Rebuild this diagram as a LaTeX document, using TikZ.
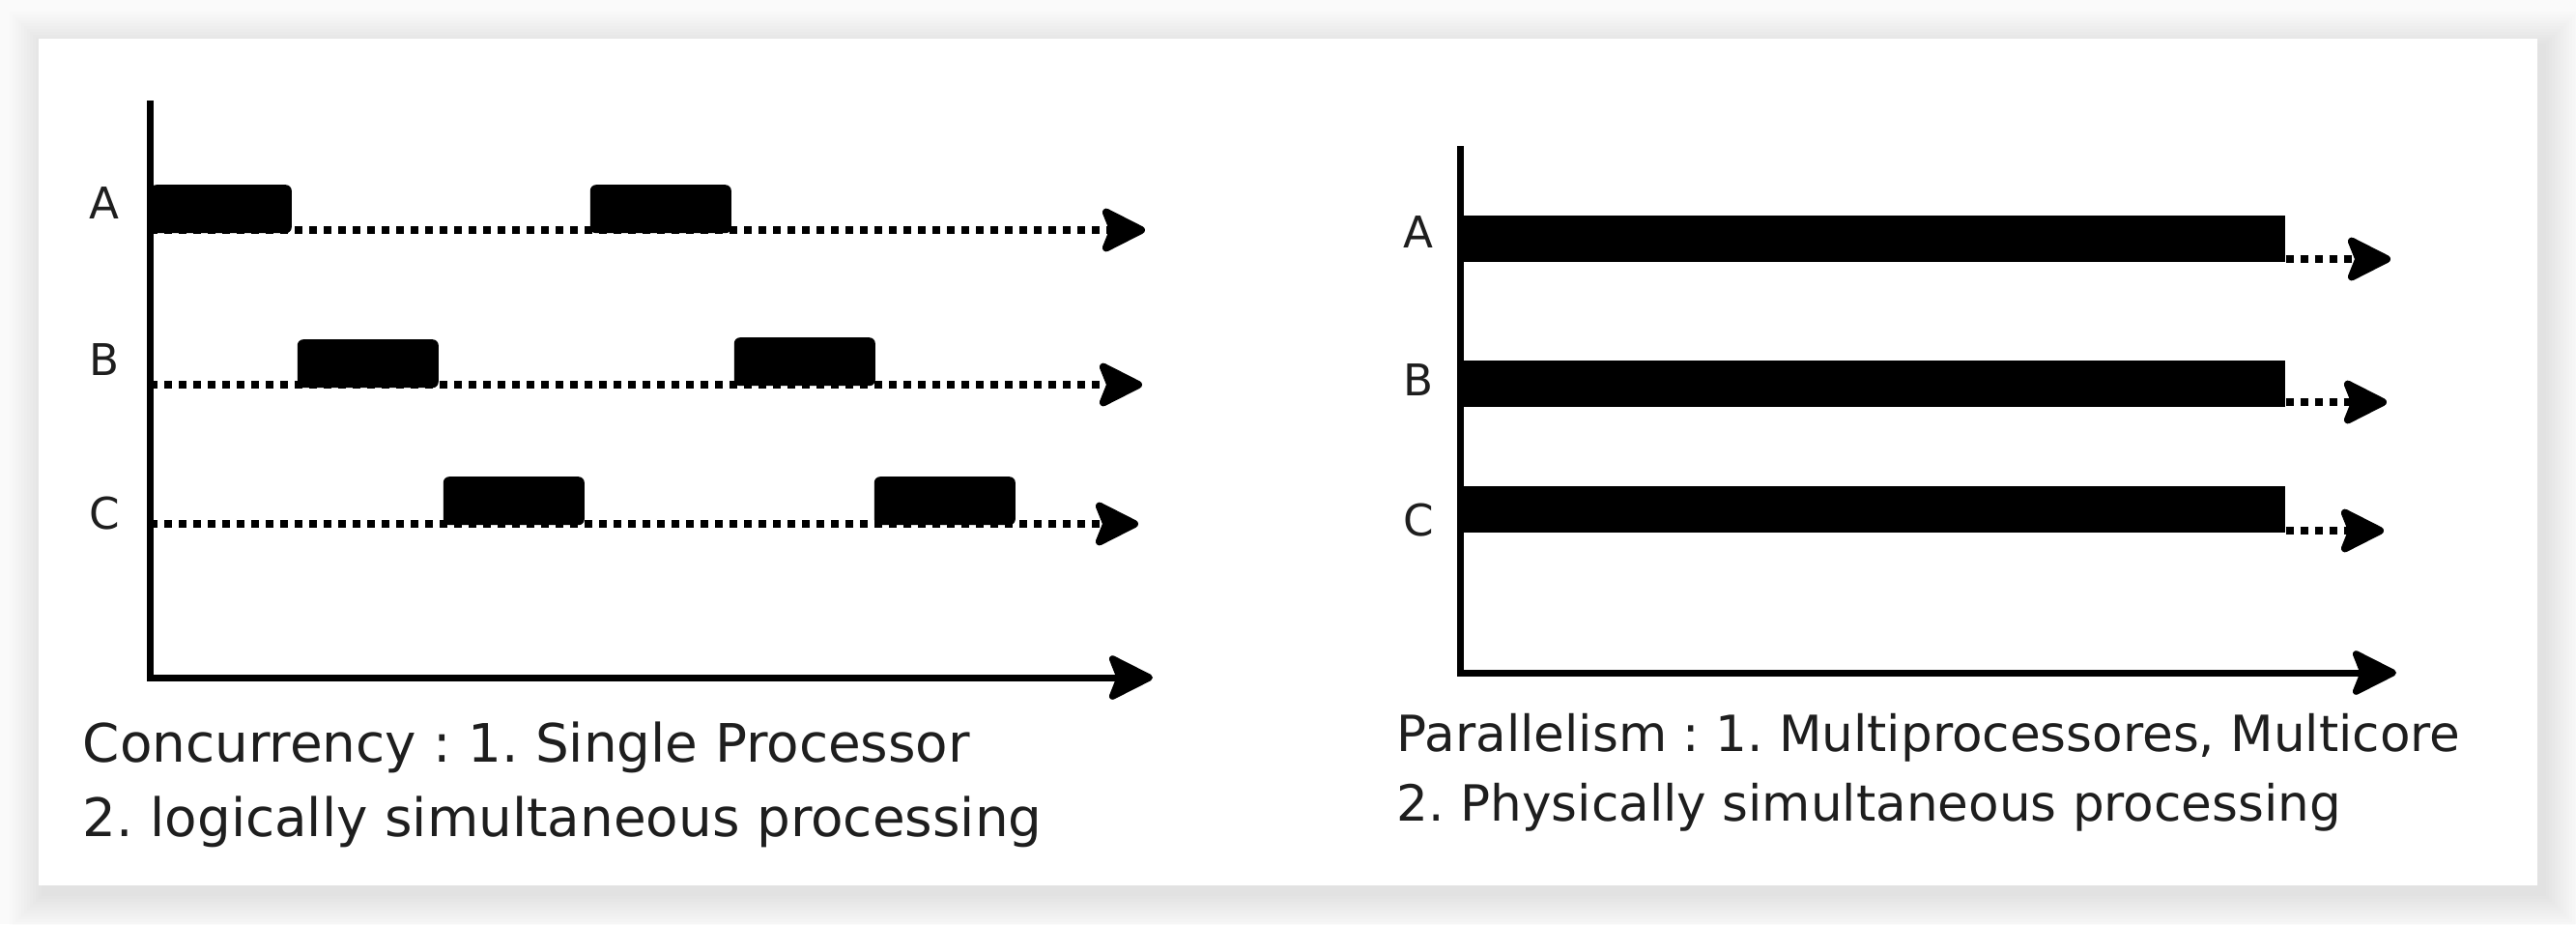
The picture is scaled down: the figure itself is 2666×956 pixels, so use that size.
\documentclass[tikz,border=0pt]{standalone}
\usepackage{fontspec}
\setmainfont{DejaVu Sans}
\usetikzlibrary{arrows.meta}
\frenchspacing

\tikzset{
  headtip/.style={-{Stealth[length=13pt,width=13pt,inset=2.5pt,round]}},
  axisline/.style={headtip, line width=1.75pt},
  timeline/.style={headtip, line width=2pt, dash pattern=on 2pt off 1.75pt},
  slot/.style={fill=black, rounded corners=1.5pt, inner sep=0pt, minimum width=36.5pt, minimum height=12.5pt, anchor=south west},
  runbar/.style={fill=black, inner sep=0pt, minimum width=213.25pt, minimum height=12pt, anchor=south west},
  tlabel/.style={inner sep=0pt, text={rgb,255:red,30;green,30;blue,30}, font=\fontsize{11.3}{13}\selectfont},
  caption/.style={anchor=base west, inner sep=0pt, text={rgb,255:red,30;green,30;blue,30}},
}

\begin{document}
\begin{tikzpicture}[x=0.25pt,y=0.25pt,yscale=-1,xscale=1]
\useasboundingbox (0,0) rectangle (2666,956);

%Background and card with soft shadow
\fill [color={rgb, 255:red, 250; green, 250; blue, 250 }] (0,0) rectangle (2666,956);
\foreach \s in {1,...,12}
  \fill [black, opacity=0.007] (40-\s*3+6,40-\s*3+8) rectangle (2626+\s*3+6,916+\s*3+8);
\fill [white] (40,40) rectangle (2626,916);

%--- Concurrency (left) ---
\coordinate (lTop) at (155,104);
\coordinate (lO) at (155,701);
\coordinate (lX) at (1193,701);
\coordinate (lA) at (155,238);
\coordinate (lAtip) at (1185,238);
\coordinate (lB) at (155,398);
\coordinate (lBtip) at (1182,398);
\coordinate (lC) at (155,542);
\coordinate (lCtip) at (1178,542);

%Straight Lines
\draw [axisline] (lTop) -- (lO) -- (lX);
\draw [timeline] (lA) -- (lAtip);
\draw [timeline] (lB) -- (lBtip);
\draw [timeline] (lC) -- (lCtip);

%Shape: Rectangle
\node [slot] (a1) at (155,242) {};
\node [slot] (a2) at (610,242) {};
\node [slot] (b1) at (307,402) {};
\node [slot] (b2) at (759,400) {};
\node [slot] (c1) at (458,544) {};
\node [slot] (c2) at (904,544) {};

% Text Node
\node [tlabel] (lblA) at (108,210) {A};
\node [tlabel] (lblB) at (108,372) {B};
\node [tlabel] (lblC) at (108,531) {C};
\node [caption, font=\fontsize{13.7}{16}\selectfont] (capL1) at (85,788) {Concurrency : 1. Single Processor};
\node [caption, font=\fontsize{13.7}{16}\selectfont] (capL2) at (85,865) {2. logically simultaneous processing};

%--- Parallelism (right) ---
\coordinate (rTop) at (1511,151);
\coordinate (rO) at (1511,696);
\coordinate (rX) at (2480,696);
\coordinate (rAtip) at (2474,268);
\coordinate (rBtip) at (2470,416);
\coordinate (rCtip) at (2467,549);

%Shape: Rectangle
\node [runbar] (barA) at (1511,272) {};
\node [runbar] (barB) at (1511,422) {};
\node [runbar] (barC) at (1511,552) {};

%Straight Lines
\draw [axisline] (rTop) -- (rO) -- (rX);
\draw [timeline] (barA.south east |- rAtip) -- (rAtip);
\draw [timeline] (barB.south east |- rBtip) -- (rBtip);
\draw [timeline] (barC.south east |- rCtip) -- (rCtip);

% Text Node
\node [tlabel] (rlblA) at (1468,240) {A};
\node [tlabel] (rlblB) at (1468,393) {B};
\node [tlabel] (rlblC) at (1468,538) {C};
\node [caption, font=\fontsize{12.9}{15}\selectfont] (capR1) at (1445,777) {Parallelism : 1. Multiprocessores, Multicore};
\node [caption, font=\fontsize{12.9}{15}\selectfont] (capR2) at (1445,849) {2. Physically simultaneous processing};

\end{tikzpicture}
\end{document}
